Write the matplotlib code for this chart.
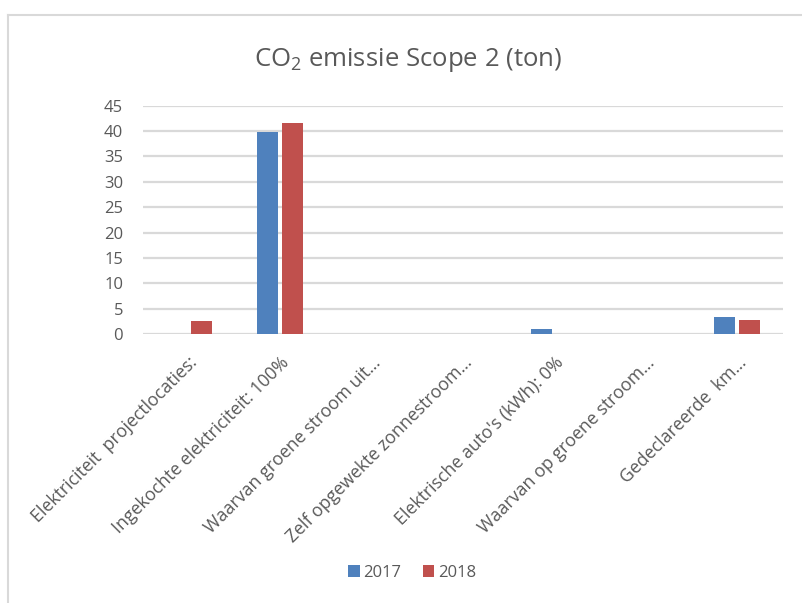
import matplotlib
matplotlib.use("Agg")
import matplotlib.pyplot as plt
import numpy as np
from matplotlib.lines import Line2D

plt.rcParams['font.family'] = ['Open Sans', 'DejaVu Sans']
plt.rcParams['mathtext.default'] = 'regular'

# data
categories = ["Elektriciteit  projectlocaties:", "Ingekochte elektriciteit: 100%",
              "Waarvan groene stroom uit…", "Zelf opgewekte zonnestroom…",
              "Elektrische auto's (kWh): 0%", "Waarvan op groene stroom…",
              "Gedeclareerde  km…"]
waarden_2017 = [0, 39.8, 0, 0, 1.0, 0, 3.3]
waarden_2018 = [2.5, 41.6, 0, 0, 0, 0, 2.8]
jaren = ["2017", "2018"]
yticks = [0, 5, 10, 15, 20, 25, 30, 35, 40, 45]

tekst = '#595959'
grid = '#d9d9d9'

fig = plt.figure(figsize=(8.03, 6.03), dpi=100)
ax = fig.add_axes([0.1777, 0.446, 0.975 - 0.1777, 0.8247 - 0.446])

x = np.arange(len(categories))
b1 = ax.bar(x - 0.138, waarden_2017, width=0.23, color='#4F81BD', label=jaren[0])
b2 = ax.bar(x + 0.138, waarden_2018, width=0.23, color='#C0504D', label=jaren[1])

ax.set_xlim(-0.5, len(categories) - 0.5)
ax.set_ylim(0, 45)
ax.set_yticks(yticks)
ax.yaxis.grid(True, color=grid, linewidth=1.6)
ax.set_axisbelow(True)
for s in ax.spines.values():
    s.set_visible(False)
ax.tick_params(length=0, colors=tekst, labelsize=12)
ax.tick_params(axis='y', pad=14)
ax.set_xticks(x)
ax.set_xticklabels(categories, rotation=45, ha='right', va='top',
                   rotation_mode='anchor', fontsize=12.8, color=tekst)
ax.tick_params(axis='x', pad=14)

# titel
fig.text(0.508, 1 - 60 / 603, r"CO$_2$ emissie Scope 2 (ton)", ha='center', va='center',
         fontsize=18.5, color=tekst)

# legenda
fig.legend(handles=[b1, b2], loc='center', bbox_to_anchor=(0.513, 1 - 573 / 603), ncol=2,
           frameon=False, fontsize=12, labelcolor=tekst, handlelength=0.7, handleheight=0.7,
           handletextpad=0.2, columnspacing=1.3)

# kader rond grafiek
fig.add_artist(Line2D([8 / 803, 8 / 803], [0, 1 - 15 / 603], color=grid, linewidth=1.5,
                      transform=fig.transFigure))
fig.add_artist(Line2D([8 / 803, 1], [1 - 15 / 603, 1 - 15 / 603], color=grid, linewidth=1.5,
                      transform=fig.transFigure))

fig.savefig("out.png", dpi=100, facecolor='white')
